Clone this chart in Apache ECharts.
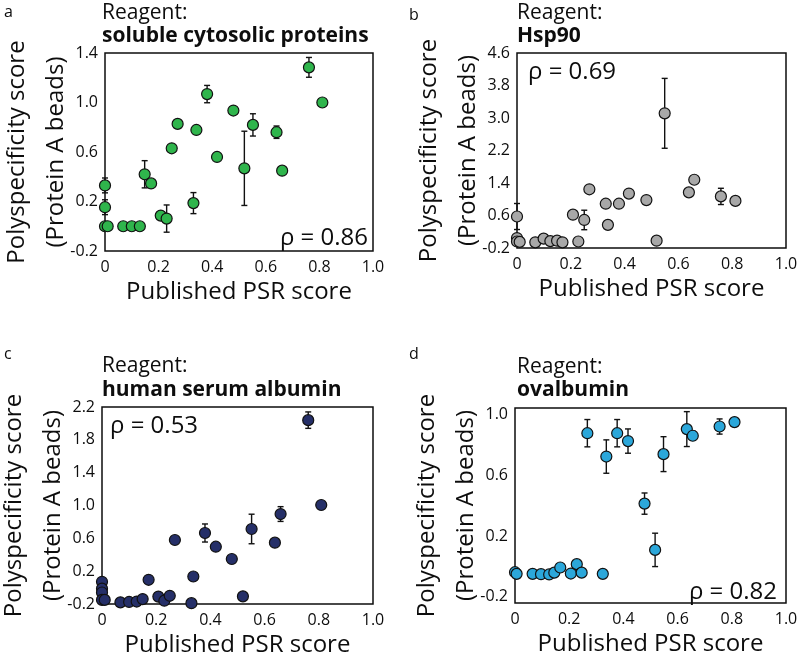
<!DOCTYPE html>
<html><head><meta charset="utf-8">
<script src="https://cdn.jsdelivr.net/npm/echarts@6/dist/echarts.min.js"></script>
<style>html,body{margin:0;padding:0;background:#fff}#c{width:800px;height:655px}</style>
</head><body><div id="c"></div>
<script>
// ---- data ----
const xTicks = [0, 0.2, 0.4, 0.6, 0.8, 1.0];

// panel a: soluble cytosolic proteins
const aX   = [0, 0, 0, 0.01, 0.068, 0.1, 0.13, 0.148, 0.172, 0.208, 0.23, 0.249, 0.271, 0.33, 0.341, 0.381, 0.418, 0.479, 0.52, 0.552, 0.64, 0.661, 0.761, 0.811];
const aY   = [0.33, 0.154, 0.0, 0.0, 0.0, 0.0, 0.0, 0.42, 0.346, 0.086, 0.062, 0.63, 0.827, 0.187, 0.778, 1.068, 0.56, 0.935, 0.468, 0.819, 0.76, 0.449, 1.284, 1.0];
const aErr = [0.06, 0.06, 0, 0, 0, 0, 0, 0.11, 0, 0, 0.11, 0, 0.03, 0.085, 0.03, 0.07, 0, 0, 0.30, 0.09, 0.05, 0, 0.08, 0];
const aYTicks = [-0.2, 0.2, 0.6, 1.0, 1.4];

// panel b: Hsp90
const bX   = [0, 0, 0, 0.01, 0.068, 0.099, 0.124, 0.149, 0.169, 0.208, 0.228, 0.25, 0.269, 0.33, 0.338, 0.379, 0.416, 0.481, 0.519, 0.549, 0.639, 0.659, 0.758, 0.812];
const bY   = [0.575, 0.044, -0.04, -0.05, -0.06, 0.03, -0.03, -0.02, -0.06, 0.62, -0.04, 0.49, 1.245, 0.89, 0.37, 0.89, 1.14, 0.98, -0.02, 3.115, 1.17, 1.48, 1.07, 0.96];
const bErr = [0.32, 0, 0, 0, 0, 0, 0, 0, 0, 0, 0, 0.24, 0, 0, 0, 0, 0, 0.05, 0, 0.86, 0, 0, 0.2, 0];
const bYTicks = [-0.2, 0.6, 1.4, 2.2, 3.0, 3.8, 4.6];

// panel c: human serum albumin
const cX   = [0, 0, 0, 0, 0.01, 0.068, 0.1, 0.128, 0.15, 0.172, 0.208, 0.23, 0.25, 0.269, 0.33, 0.337, 0.38, 0.42, 0.479, 0.52, 0.552, 0.638, 0.659, 0.761, 0.809];
const cY   = [0.07, -0.013, -0.06, -0.15, -0.15, -0.18, -0.175, -0.17, -0.14, 0.095, -0.11, -0.16, -0.1, 0.58, -0.19, 0.135, 0.665, 0.498, 0.348, -0.107, 0.714, 0.547, 0.896, 2.04, 1.006];
const cErr = [0, 0, 0, 0, 0, 0, 0, 0, 0, 0, 0, 0, 0, 0, 0, 0, 0.11, 0, 0, 0, 0.18, 0, 0.09, 0.1, 0];
const cYTicks = [-0.2, 0.2, 0.6, 1.0, 1.4, 1.8, 2.2];

// panel d: ovalbumin
const dX   = [0, 0.006, 0.065, 0.096, 0.126, 0.145, 0.167, 0.206, 0.228, 0.246, 0.267, 0.324, 0.337, 0.377, 0.417, 0.478, 0.517, 0.548, 0.634, 0.656, 0.755, 0.81];
const dY   = [-0.037, -0.048, -0.048, -0.05, -0.052, -0.04, -0.006, -0.046, 0.016, -0.04, 0.879, -0.048, 0.725, 0.879, 0.827, 0.415, 0.11, 0.741, 0.906, 0.862, 0.923, 0.952];
const dErr = [0, 0, 0, 0, 0, 0, 0, 0, 0, 0, 0.09, 0, 0.11, 0.09, 0.08, 0.07, 0.11, 0.115, 0.115, 0.03, 0.05, 0];
const dYTicks = [-0.2, 0.2, 0.6, 1.0];

const panels = [
  {letter:'a', reagent:'soluble cytosolic proteins', rho:'ρ = 0.86', x:aX, y:aY, e:aErr, ticks:aYTicks, color:'#2fb54c',
   grid:{left:105, top:53, width:268, height:198}, ymin:-0.2, ymax:1.4,
   letterPos:[4,12], reagentPos:[102,13], namePos:[102,36], rhoPos:[368,238], rhoAlign:'right'},
  {letter:'b', reagent:'Hsp90', rho:'ρ = 0.69', x:bX, y:bY, e:bErr, ticks:bYTicks, color:'#a8a8a8',
   grid:{left:517, top:53, width:269, height:195}, ymin:-0.2, ymax:4.6,
   letterPos:[409,15], reagentPos:[517,13], namePos:[517,36], rhoPos:[528,72], rhoAlign:'left'},
  {letter:'c', reagent:'human serum albumin', rho:'ρ = 0.53', x:cX, y:cY, e:cErr, ticks:cYTicks, color:'#252f68',
   grid:{left:102, top:407, width:271, height:197}, ymin:-0.2, ymax:2.2,
   letterPos:[4,354], reagentPos:[102,366], namePos:[102,390], rhoPos:[110,426], rhoAlign:'left'},
  {letter:'d', reagent:'ovalbumin', rho:'ρ = 0.82', x:dX, y:dY, e:dErr, ticks:dYTicks, color:'#2ba7da',
   grid:{left:515, top:408, width:271, height:195}, ymin:-0.24, ymax:1.045,
   letterPos:[409,354], reagentPos:[517,367], namePos:[517,390], rhoPos:[777,592], rhoAlign:'right'}
];

// ---- chart ----
const FONT = '"Open Sans", "Noto Sans", sans-serif';
const INK = '#0d0d0d';
const chart = echarts.init(document.getElementById('c'));

function errRender(params, api) {
  const x = api.value(0), y = api.value(1), e = api.value(2);
  if (!e) return null;
  const t = api.coord([x, y + e]), b = api.coord([x, y - e]);
  const cap = 3;
  const st = {stroke: '#111', lineWidth: 1.4};
  return {type: 'group', children: [
    {type: 'line', shape: {x1: t[0], y1: t[1], x2: b[0], y2: b[1]}, style: st},
    {type: 'line', shape: {x1: t[0] - cap, y1: t[1], x2: t[0] + cap, y2: t[1]}, style: st},
    {type: 'line', shape: {x1: b[0] - cap, y1: b[1], x2: b[0] + cap, y2: b[1]}, style: st}
  ]};
}

const grid = [], xAxis = [], yAxis = [], series = [], graphic = [];
panels.forEach((p, i) => {
  grid.push(Object.assign({show: true, borderColor: INK, borderWidth: 1.5, backgroundColor: 'transparent',
    containLabel: false, outerBoundsMode: 'none'}, p.grid));
  xAxis.push({
    type: 'value', gridIndex: i, min: 0, max: 1,
    axisLine: {show: false}, axisTick: {show: false}, splitLine: {show: false},
    axisLabel: {customValues: xTicks, fontSize: 16, fontFamily: FONT, color: INK, margin: 8,
      formatter: v => v === 0 ? '0' : v.toFixed(1)},
    name: 'Published PSR score', nameLocation: 'middle', nameGap: 29, nameMoveOverlap: false,
    nameTextStyle: {fontSize: 24, fontFamily: FONT, color: INK}
  });
  yAxis.push({
    type: 'value', gridIndex: i, min: p.ymin, max: p.ymax,
    axisLine: {show: false}, axisTick: {show: false}, splitLine: {show: false},
    axisLabel: {customValues: p.ticks, fontSize: 16, fontFamily: FONT, color: INK, margin: 7,
      formatter: v => v.toFixed(1)},
    name: 'Polyspecificity score\n(Protein A beads)', nameLocation: 'middle', nameGap: 29, nameRotate: 90,
    nameMoveOverlap: false,
    nameTextStyle: {fontSize: 24, lineHeight: 39, fontFamily: FONT, color: INK}
  });
  const data = p.x.map((x, k) => [x, p.y[k], p.e[k]]);
  series.push({
    type: 'custom', xAxisIndex: i, yAxisIndex: i, renderItem: errRender, data: data,
    encode: {x: 0, y: 1}, z: 1, clip: false, silent: true
  });
  series.push({
    type: 'scatter', xAxisIndex: i, yAxisIndex: i, data: data.map(d => [d[0], d[1]]),
    symbolSize: 11, clip: false, z: 3,
    itemStyle: {color: p.color, borderColor: '#111', borderWidth: 1.2, opacity: 1}
  });
  graphic.push(
    {type: 'text', x: p.letterPos[0], y: p.letterPos[1], style: {text: p.letter, fontSize: 16, fontFamily: FONT, fill: INK, verticalAlign: 'middle'}},
    {type: 'text', x: p.reagentPos[0], y: p.reagentPos[1], style: {text: 'Reagent:', fontSize: 21, fontFamily: FONT, fill: INK, verticalAlign: 'middle'}},
    {type: 'text', x: p.namePos[0], y: p.namePos[1], style: {text: p.reagent, fontSize: 21, fontWeight: 'bold', fontFamily: FONT, fill: INK, verticalAlign: 'middle'}},
    {type: 'text', x: p.rhoPos[0], y: p.rhoPos[1], z: 10, style: {text: p.rho, fontSize: 24, fontFamily: FONT, fill: INK, verticalAlign: 'middle', align: p.rhoAlign}}
  );
});

chart.setOption({animation: false, backgroundColor: '#fff', grid, xAxis, yAxis, series, graphic});
</script></body></html>
